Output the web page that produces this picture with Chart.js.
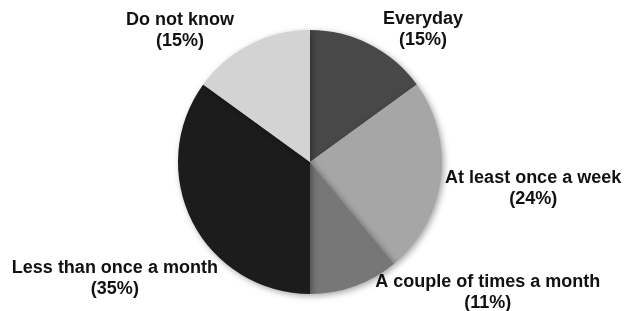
<!DOCTYPE html>
<html>
<head>
<meta charset="utf-8">
<script src="https://cdn.jsdelivr.net/npm/chart.js@4/dist/chart.umd.min.js"></script>
<style>
html, body { margin: 0; padding: 0; background: #fff; }
#wrap { width: 631px; height: 311px; }
</style>
</head>
<body>
<div id="wrap"><canvas id="pie"></canvas></div>
<script>
const categories = ['Everyday', 'At least once a week', 'A couple of times a month', 'Less than once a month', 'Do not know'];
const shares = [15, 24, 11, 35, 15];
const sliceColors = ['#484848', '#a6a6a6', '#777777', '#1c1c1c', '#d3d3d3'];

// nudge from the radial anchor point, px
const labelNudge = [[41, 9], [66, 7], [124, -19], [-54, 45], [-58, 10]];

const shadowPlugin = {
  id: 'shadow',
  beforeDatasetDraw(chart) {
    const ctx = chart.ctx;
    ctx.save();
    ctx.shadowColor = 'rgba(0,0,0,0.35)';
    ctx.shadowBlur = 6;
    ctx.shadowOffsetX = 2;
    ctx.shadowOffsetY = 2;
  },
  afterDatasetDraw(chart) {
    chart.ctx.restore();
  }
};

const labelPlugin = {
  id: 'outLabels',
  afterDraw(chart) {
    const ctx = chart.ctx;
    const arcs = chart.getDatasetMeta(0).data;
    ctx.save();
    ctx.fillStyle = '#111';
    ctx.font = 'bold 18px "Liberation Sans", Arial, sans-serif';
    ctx.textAlign = 'center';
    ctx.textBaseline = 'middle';
    arcs.forEach((arc, i) => {
      const mid = (arc.startAngle + arc.endAngle) / 2;
      const r = arc.outerRadius * 1.2;
      const x = arc.x + Math.cos(mid) * r + labelNudge[i][0];
      const y = arc.y + Math.sin(mid) * r + labelNudge[i][1];
      ctx.fillText(categories[i], x, y - 10.5);
      ctx.fillText('(' + shares[i] + '%)', x, y + 10.5);
    });
    ctx.restore();
  }
};

new Chart(document.getElementById('pie').getContext('2d'), {
  type: 'pie',
  data: {
    labels: categories,
    datasets: [{
      data: shares,
      backgroundColor: sliceColors,
      borderWidth: 0
    }]
  },
  options: {
    responsive: true,
    maintainAspectRatio: false,
    animation: false,
    layout: { padding: { top: 30, bottom: 17, left: 0, right: 11 } },
    plugins: {
      legend: { display: false },
      tooltip: { enabled: false }
    }
  },
  plugins: [shadowPlugin, labelPlugin]
});
</script>
</body>
</html>
